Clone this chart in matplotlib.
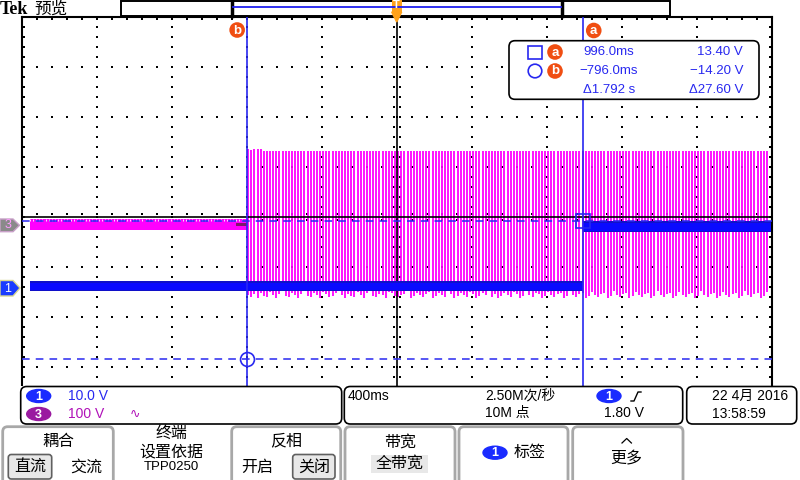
import numpy as np
import matplotlib
matplotlib.use('Agg')
import matplotlib.pyplot as plt
from matplotlib.patches import FancyBboxPatch, Rectangle, Polygon, Circle, Ellipse

plt.rcParams['font.family'] = ['Liberation Sans', 'Noto Sans CJK SC', 'DejaVu Sans']

# ---------------- scope settings / data ----------------
time_per_div = 0.4            # s/div (400ms)
ch1_volts_per_div = 10.0      # 10.0 V
ch3_volts_per_div = 100.0     # 100 V
ch1_offset_div = -1.42        # ground marker position of channel 1 (div from centre)
ch3_offset_div = -0.16        # ground marker position of channel 3

# channel 1: DC level segments (V)
ch1_seg_start = [-1.956, 0.996]
ch1_seg_end = [0.996, 1.997]
ch1_seg_high = [1.0, 13.0]
ch1_seg_low = [-0.4, 11.4]
ch1_seg_spike_high = [1.4, 13.4]
ch1_seg_spike_low = [-0.6, 11.2]

# channel 3 before the switch-on (V)
ch3_pre_start, ch3_pre_end = -1.956, -0.796
ch3_pre_high, ch3_pre_low = 12.0, -10.0
ch3_pre_core_high, ch3_pre_core_low = 8.0, -8.0

# channel 3 after switch-on: envelope of each displayed cycle (V)
ch3_cycle_period_s = 1 / 60
ch3_cycle_top = [
    152, 150, 152, 152, 152, 148, 148, 148, 148, 148, 148, 148, 148, 148, 148, 148,
    148, 148, 148, 148, 148, 148, 148, 148, 148, 148, 148, 148, 148, 148, 148, 148,
    148, 148, 148, 148, 148, 148, 148, 148, 148, 148, 148, 148, 148, 148, 148, 148,
    148, 148, 148, 148, 148, 148, 148, 148, 148, 148, 148, 148, 148, 148, 148, 148,
    148, 148, 148, 148, 148, 148, 148, 148, 148, 148, 148, 148, 148, 148, 148, 148,
    148, 148, 148, 148, 148, 148, 148, 148, 148, 148, 148, 148, 148, 148, 148, 148,
    148, 148, 148, 148, 148, 148, 148, 148, 148, 148, 148, 148, 148, 148, 148, 148,
    148, 148, 148, 148, 148, 148, 148, 148, 148, 148, 148, 148, 148, 148, 148, 148,
    148, 148, 148, 148, 148, 148, 148, 148, 148, 148, 148, 148, 148, 148, 148, 148,
    148, 148, 148, 148, 148, 148, 148, 148, 148, 148, 148, 148, 148, 148, 148, 148,
    148, 148, 148, 148, 148, 148, 148,
]
ch3_cycle_bottom = [
    -140, -144, -138, -146, -136, -142, -144, -134, -140, -146, -138, -132, -142, -144, -136, -140,
    -146, -138, -132, -142, -144, -136, -140, -146, -134, -138, -144, -142, -136, -130, -140, -146,
    -138, -142, -144, -134, -140, -146, -136, -132, -142, -144, -138, -140, -146, -134, -136, -142,
    -144, -140, -138, -132, -146, -142, -136, -140, -144, -138, -134, -146, -142, -136, -140, -144,
    -132, -138, -146, -142, -136, -140, -144, -134, -138, -146, -142, -136, -140, -132, -144, -138,
    -146, -142, -136, -140, -144, -134, -138, -146, -142, -130, -140, -144, -136, -138, -146, -142,
    -134, -140, -144, -138, -136, -146, -142, -132, -140, -144, -138, -136, -146, -142, -134, -140,
    -144, -138, -136, -146, -142, -132, -140, -144, -138, -136, -146, -142, -134, -140, -144, -138,
    -136, -146, -142, -132, -140, -144, -138, -136, -146, -142, -134, -140, -144, -138, -136, -146,
    -142, -132, -140, -144, -138, -136, -146, -142, -134, -140, -144, -138, -136, -146, -142, -132,
    -140, -144, -138, -136, -146, -142, -134,
]

# cursors
cursor_a_t, cursor_b_t = 0.996, -0.796
cursor_a_v, cursor_b_v = 13.40, -14.20

# texts
readout_rows = [("996.0ms", "13.40 V"), ("\u2212796.0ms", "\u221214.20 V"), ("\u03941.792 s", "\u039427.60 V")]

BLUE = '#1a1aff'
CBLUE = '#2828f0'
MAG = '#ff00ff'
ORANGE_RED = '#f04e12'

def ch1_div(v):
    return np.asarray(v, dtype=float) / ch1_volts_per_div + ch1_offset_div

def ch3_div(v):
    return np.asarray(v, dtype=float) / ch3_volts_per_div + ch3_offset_div

# ---------------- figure ----------------
fig = plt.figure(figsize=(8, 4.8), dpi=100)
PX_L, PX_R, PX_T, PX_B = 21.7, 771.7, 17.0, 386.0
ax = fig.add_axes([PX_L / 800, 1 - PX_B / 480, (PX_R - PX_L) / 800, (PX_B - PX_T) / 480])
y_bottom_div = -(PX_B - 217.0) / 50.0
ax.set_xlim(-5 * time_per_div, 5 * time_per_div)
ax.set_ylim(y_bottom_div, 4)
ax.set_xticks([]); ax.set_yticks([])
ax.spines['bottom'].set_visible(False)
for s in ['left', 'right', 'top']:
    ax.spines[s].set_linewidth(1.5)
    ax.spines[s].set_color('black')

# graticule dots
tx_minor = np.arange(-2.0, 2.0001, time_per_div / 5)
ty_minor = np.arange(-4.0, 4.0001, 0.2)
major_t = [k * time_per_div for k in (-4, -3, -2, -1, 1, 2, 3, 4)]
major_y = [-3, -2, -1, 1, 2, 3]
px = []
py = []
for yv in major_y:
    px += list(tx_minor); py += [yv] * len(tx_minor)
for tv in major_t:
    px += [tv] * len(ty_minor); py += list(ty_minor)
dt3 = 3 * (4 * time_per_div) / 300.0
dy3 = 3 / 50.0
for yv in ty_minor:
    px += [-dt3, dt3, -2.0 + 2 * dt3 / 3, 2.0 - 2 * dt3 / 3]; py += [yv] * 4
for tv in tx_minor:
    px += [tv, tv, tv]; py += [dy3, -dy3, 4 - 2 * dy3 / 3]
ax.scatter(px, py, s=0.9, marker='s', color='black', linewidths=0, zorder=1)

# channel 3 pre-switch band
ax.fill_between([ch3_pre_start, ch3_pre_end], ch3_div(ch3_pre_low), ch3_div(ch3_pre_high),
                color=MAG, lw=0, zorder=3)
ax.fill_between([ch3_pre_end - 0.06, ch3_pre_end], ch3_div(-2), ch3_div(4), color='#7a1a6a', lw=0, zorder=3)
pre_t = np.arange(ch3_pre_start, ch3_pre_end, ch3_cycle_period_s)
ax.vlines(pre_t, ch3_div(ch3_pre_core_high), ch3_div(ch3_pre_high), color='white', lw=0.6, zorder=3)

# channel 3 after switch-on: one stripe per displayed cycle
cyc_t = ch3_pre_end + 0.004 + np.arange(len(ch3_cycle_top)) * ch3_cycle_period_s
ax.vlines(cyc_t, ch3_div(ch3_cycle_bottom), ch3_div(ch3_cycle_top), color=MAG, lw=1.3, zorder=3)

# centre lines (drawn over channel 3)
ax.axhline(0, color='black', lw=1.2, zorder=3.5)
ax.axvline(0, color='black', lw=1.2, zorder=3.5)

# channel 1 segments
for t0, t1, hi, lo, shi, slo in zip(ch1_seg_start, ch1_seg_end, ch1_seg_high, ch1_seg_low,
                                    ch1_seg_spike_high, ch1_seg_spike_low):
    ax.fill_between([t0, t1], ch1_div(slo), ch1_div(shi), color='#1010c8', lw=0, zorder=4)
    ax.fill_between([t0, t1], ch1_div(lo), ch1_div(hi), color='#0a0aff', lw=0, zorder=4)

# cursors
ax.axvline(cursor_b_t, color=CBLUE, lw=1.2, zorder=5)
ax.axvline(cursor_a_t, color=CBLUE, lw=1.2, zorder=5)
ax.axhline(ch1_div(cursor_a_v), color=CBLUE, lw=1.1, ls=(0, (5, 4)), zorder=5)
ax.axhline(ch1_div(cursor_b_v), color=CBLUE, lw=1.1, ls=(0, (5, 4)), zorder=5)
ax.plot([cursor_a_t], [ch1_div(cursor_a_v)], marker='s', ms=10, mfc='none', mec=CBLUE, mew=1.2, zorder=6)
ax.plot([cursor_b_t], [ch1_div(cursor_b_v)], marker='o', ms=10, mfc='none', mec=CBLUE, mew=1.2, zorder=6)

# ---------------- overlay (UI) ----------------
ov = fig.add_axes([0, 0, 1, 1])
ov.set_xlim(0, 800); ov.set_ylim(480, 0)
ov.axis('off')
ov.patch.set_visible(False)

def t2px(t):
    return 396.7 + t / time_per_div * 75.0

# top bar
ov.text(0, 9, 'Tek', fontsize=13, fontweight='bold', family='Liberation Serif', va='center', ha='left')
ov.text(34, 9, '预览', fontsize=12, va='center', ha='left', family=['Noto Sans CJK SC'])
ov.add_patch(Rectangle((121, 0.5), 549, 15, fill=False, ec='black', lw=1.4))
ov.plot([231.7, 231.7], [0.5, 15.5], color='black', lw=2.5)
ov.plot([561.7, 561.7], [0.5, 15.5], color='black', lw=2.5)
ov.plot([233, 561], [7, 7], color='#2020f0', lw=1.3)
# trigger T
ov.add_patch(Rectangle((391.7, 0), 10, 12, color='#ffa21c', ec='none'))
ov.add_patch(Polygon([(391.7, 12), (401.7, 12), (396.7, 22)], closed=True, color='#ffa21c'))
ov.text(396.7, 5.5, 'T', fontsize=8, color='white', fontweight='bold', ha='center', va='center')

# cursor letters
def letter_badge(x, y, s, r=7.8):
    ov.add_patch(Circle((x, y), r, color=ORANGE_RED, ec='none', zorder=8))
    ov.text(x, y + 0.5, s, fontsize=9.5, color='white', fontweight='bold', ha='center', va='center', zorder=9)

letter_badge(t2px(cursor_b_t) - 10.3, 30, 'b')
letter_badge(t2px(cursor_a_t) + 10.3, 30.5, 'a')

# readout box
ov.add_patch(FancyBboxPatch((509, 40.7), 250, 58.6, boxstyle='round,pad=0,rounding_size=6',
                            fc='white', ec='black', lw=1.2, zorder=7))
ov.add_patch(Rectangle((528, 45.5), 13.5, 13.5, fill=False, ec=CBLUE, lw=1.2, zorder=8))
ov.add_patch(Circle((535, 71), 6.8, fill=False, ec=CBLUE, lw=1.2, zorder=8))
letter_badge(555, 52, 'a')
letter_badge(555, 71, 'b')
for (ts, vs), yy in zip(readout_rows, [52.3, 71, 90]):
    ov.text(609, yy, ts, fontsize=9.5, color=CBLUE, ha='center', va='center', zorder=9)
    ov.text(743, yy, vs, fontsize=9.5, color=CBLUE, ha='right', va='center', zorder=9)

# channel markers on the left
ov.add_patch(Polygon([(0, 219), (13, 219), (19.5, 225.3), (13, 231.7), (0, 231.7)], closed=True,
                     fc='#8a8a8a', ec='#c8a0c8', lw=1))
ov.text(8, 225.5, '3', fontsize=9, color='#ff9cff', ha='center', va='center')
ov.add_patch(Polygon([(0, 280.5), (13, 280.5), (20, 288), (13, 296), (0, 296)], closed=True,
                     fc='#1a3cff', ec='#d8d890', lw=1))
ov.text(8, 288.5, '1', fontsize=9, color='white', ha='center', va='center')

# bottom information panels
def rbox(x0, y0, x1, y1, ec='black', lw=1.2, fc='white', r=6, z=7):
    ov.add_patch(FancyBboxPatch((x0, y0), x1 - x0, y1 - y0, boxstyle=f'round,pad=0,rounding_size={r}',
                                fc=fc, ec=ec, lw=lw, zorder=z))

ov.add_patch(Rectangle((0, 386), 800, 94, fc='white', ec='none', zorder=6))
rbox(20.7, 386.5, 341.7, 424)
rbox(344.3, 386.5, 682.7, 424)
rbox(686.7, 386.5, 796.7, 424)

def oval(x, y, s, color):
    ov.add_patch(Ellipse((x, y), 24, 13, color=color, zorder=8))
    ov.text(x, y + 0.5, s, fontsize=9, color='white', fontweight='bold', ha='center', va='center', zorder=9)

oval(38.7, 396, '1', '#1a2bff')
oval(38.7, 414, '3', '#9a1aa0')
ov.text(68, 396, '10.0 V', fontsize=10, color=CBLUE, va='center', ha='left', zorder=9)
ov.text(68, 414, '100 V', fontsize=10, color='#b010b8', va='center', ha='left', zorder=9)
ov.text(135, 414, '\u223f', fontsize=9, color='#b010b8', va='center', ha='center', zorder=9,
        family=['DejaVu Sans'])
ov.text(348, 396, '400ms', fontsize=10, color='black', va='center', ha='left', zorder=9)
ov.text(485, 396, '2.50M次/秒', fontsize=10, color='black', va='center', ha='left', zorder=9)
ov.text(485, 413, '10M 点', fontsize=10, color='black', va='center', ha='left', zorder=9)
oval(609, 396, '1', '#1a2bff')
ov.plot([631, 634, 638, 641], [401, 401, 392, 392], color='black', lw=1.0, zorder=9)
ov.text(604, 413, '1.80 V', fontsize=10, color='black', va='center', ha='left', zorder=9)
ov.text(711.7, 396, '22 4月 2016', fontsize=10, color='black', va='center', ha='left', zorder=9)
ov.text(711.7, 414, '13:58:59', fontsize=10, color='black', va='center', ha='left', zorder=9)

# buttons
BGR = '#a8a8a8'
for x0, x1 in [(2.7, 113.3), (231.7, 340.7), (345, 455), (459, 568), (572.7, 683)]:
    rbox(x0, 426.7, x1, 486, ec=BGR, lw=2, r=5)
FS = 11.5
ov.text(58.3, 441, '耦合', fontsize=FS, ha='center', va='center', zorder=9)
rbox(8.3, 454.5, 51.7, 479, ec='#606060', lw=1.2, fc='#e8e8e8', r=3)
ov.text(30, 467, '直流', fontsize=FS, ha='center', va='center', zorder=9)
ov.text(86, 467, '交流', fontsize=FS, ha='center', va='center', zorder=9)
ov.text(171.7, 433.5, '终端', fontsize=FS, ha='center', va='center', zorder=9)
ov.text(171.7, 451.5, '设置依据', fontsize=FS, ha='center', va='center', zorder=9)
ov.text(171.7, 467.5, 'TPP0250', fontsize=9.5, ha='center', va='center', zorder=9)
ov.text(285.7, 441, '反相', fontsize=FS, ha='center', va='center', zorder=9)
ov.text(257.7, 467, '开启', fontsize=FS, ha='center', va='center', zorder=9)
rbox(292.7, 454.5, 335, 479, ec='#606060', lw=1.2, fc='#e8e8e8', r=3)
ov.text(314, 467, '关闭', fontsize=FS, ha='center', va='center', zorder=9)
ov.text(400, 443, '带宽', fontsize=FS, ha='center', va='center', zorder=9)
ov.add_patch(Rectangle((371, 455), 57, 18, fc='#e8e8e8', ec='none', zorder=8))
ov.text(399.5, 464, '全带宽', fontsize=FS, ha='center', va='center', zorder=9)
oval(495, 452.7, '1', '#1a2bff')
ov.text(530, 452.7, '标签', fontsize=FS, ha='center', va='center', zorder=9)
ov.plot([622, 626.7, 631.4], [443, 438.5, 443], color='black', lw=0.9, zorder=9)
ov.text(626.7, 459, '更多', fontsize=FS, ha='center', va='center', zorder=9)

fig.savefig('out.png', dpi=100)
